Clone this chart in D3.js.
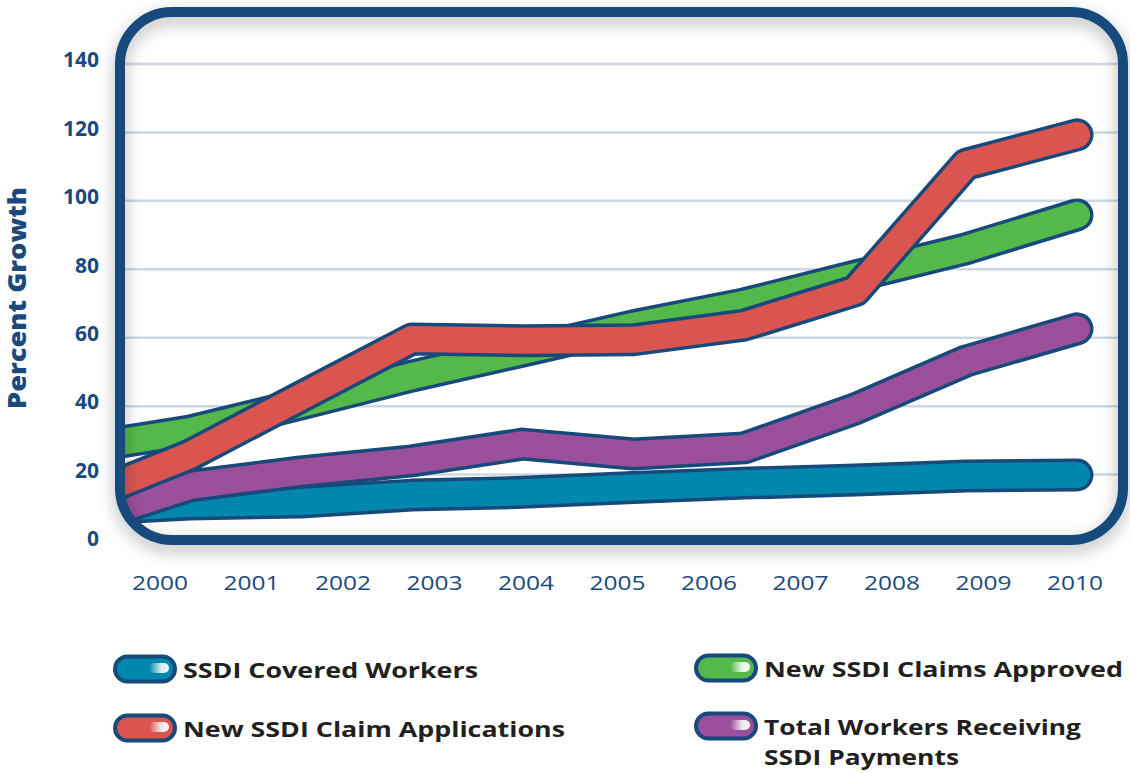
<!DOCTYPE html>
<html>
<head>
<meta charset="utf-8">
<script src="https://cdn.jsdelivr.net/npm/d3@7"></script>
<style>
  body { margin: 0; background: #ffffff; }
  svg { display: block; }
</style>
</head>
<body>
<script>
// growth since 2000, in percent
var years = [2000, 2001, 2002, 2003, 2004, 2005, 2006, 2007, 2008, 2009, 2010];
var yTicks = [0, 20, 40, 60, 80, 100, 120, 140];

var coveredWorkers   = [0, 9.7, 11.4, 12.0, 14.0, 14.8, 16.2, 17.5, 18.4, 19.6, 19.9];
var claimsReceiving  = [0, 6.2, 16.7, 20.8, 24.0, 28.9, 26.0, 27.8, 39.2, 53.2, 62.6];
var claimsApproved   = [0, 27.6, 32.7, 40.6, 48.8, 56.1, 63.5, 69.9, 78.0, 86.0, 95.9];
var claimApplications = [0, 12.7, 25.7, 42.7, 59.6, 59.1, 59.4, 63.7, 73.7, 110.7, 119.3];

var navy = "#17497b";

// draw order: bottom first
var series = [
    {name: "SSDI Covered Workers", values: coveredWorkers, color: "#0087ad"},
    {name: "Total Workers Receiving SSDI Payments", values: claimsReceiving, color: "#9a4f9b"},
    {name: "New SSDI Claims Approved", values: claimsApproved, color: "#55b84a"},
    {name: "New SSDI Claim Applications", values: claimApplications, color: "#da5550"}
];

var legendItems = [
    {lines: ["SSDI Covered Workers"], color: "#0087ad", x: 115, y: 669, widths: [295]},
    {lines: ["New SSDI Claim Applications"], color: "#da5550", x: 115, y: 728, widths: [382]},
    {lines: ["New SSDI Claims Approved"], color: "#55b84a", x: 696, y: 668, widths: [359]},
    {lines: ["Total Workers Receiving", "SSDI Payments"], color: "#9a4f9b", x: 696, y: 726, widths: [317, 195]}
];

var svg = d3.select("body").append("svg")
    .attr("width", 1130)
    .attr("height", 773);

var defs = svg.append("defs");

var frame = {x: 120, y: 12, w: 1003, h: 528, r: 52};

defs.append("clipPath").attr("id", "plot-clip")
    .append("rect")
    .attr("x", frame.x).attr("y", frame.y)
    .attr("width", frame.w).attr("height", frame.h)
    .attr("rx", frame.r);

var filter = defs.append("filter").attr("id", "frame-shadow")
    .attr("x", "-5%").attr("y", "-10%").attr("width", "110%").attr("height", "125%");
filter.append("feGaussianBlur").attr("in", "SourceAlpha").attr("stdDeviation", 8).attr("result", "blur");
filter.append("feOffset").attr("in", "blur").attr("dy", 6).attr("result", "off");
filter.append("feFlood").attr("flood-color", "#000000").attr("flood-opacity", 0.3);
filter.append("feComposite").attr("in2", "off").attr("operator", "in").attr("result", "shadow");
var merge = filter.append("feMerge");
merge.append("feMergeNode").attr("in", "shadow");
merge.append("feMergeNode").attr("in", "SourceGraphic");

var shine = defs.append("linearGradient").attr("id", "shine");
shine.append("stop").attr("offset", "0%").attr("stop-color", "#ffffff").attr("stop-opacity", 0);
shine.append("stop").attr("offset", "60%").attr("stop-color", "#ffffff").attr("stop-opacity", 0.85);
shine.append("stop").attr("offset", "100%").attr("stop-color", "#ffffff").attr("stop-opacity", 0.95);

// scales
var y = d3.scaleLinear().domain([0, 140]).range([543, 64]);
var xLabel = d3.scalePoint().domain(years).range([160, 1075]);
// the drawn lines run on their own spacing, wider than the labels
var xLine = d3.scaleLinear().domain([2002, 2010]).range([190, 1077]);

// gridlines
svg.append("g")
    .selectAll("line")
    .data(yTicks.filter(function(d) { return d > 0; }))
    .enter()
    .append("line")
    .attr("x1", frame.x).attr("x2", frame.x + frame.w)
    .attr("y1", function(d) { return y(d); })
    .attr("y2", function(d) { return y(d); })
    .attr("stroke", "#cbd8e4")
    .attr("stroke-width", 2.5);

// bands
var line = d3.line()
    .x(function(d, i) { return xLine(years[i]); })
    .y(function(d) { return y(d); });

var plot = svg.append("g").attr("clip-path", "url(#plot-clip)");

series.forEach(function(s) {
    plot.append("path")
        .attr("d", line(s.values))
        .attr("fill", "none")
        .attr("stroke", navy)
        .attr("stroke-width", 33)
        .attr("stroke-linejoin", "round")
        .attr("stroke-linecap", "round");
    plot.append("path")
        .attr("d", line(s.values))
        .attr("fill", "none")
        .attr("stroke", s.color)
        .attr("stroke-width", 26)
        .attr("stroke-linejoin", "round")
        .attr("stroke-linecap", "round");
});

// frame
svg.append("rect")
    .attr("x", frame.x).attr("y", frame.y)
    .attr("width", frame.w).attr("height", frame.h)
    .attr("rx", frame.r)
    .attr("fill", "none")
    .attr("stroke", navy)
    .attr("stroke-width", 10)
    .attr("filter", "url(#frame-shadow)");

// y tick labels
svg.append("g")
    .selectAll("text")
    .data(yTicks)
    .enter()
    .append("text")
    .attr("x", 99)
    .attr("y", function(d) { return y(d) - 4; })
    .attr("dy", "0.35em")
    .attr("text-anchor", "end")
    .attr("font-family", "'Open Sans', Lato, sans-serif")
    .attr("font-weight", 700)
    .attr("font-size", 21)
    .attr("fill", "#1a4a7c")
    .text(function(d) { return d; });

// x tick labels
svg.append("g")
    .selectAll("text")
    .data(years)
    .enter()
    .append("text")
    .attr("x", function(d) { return xLabel(d); })
    .attr("y", 590)
    .attr("text-anchor", "middle")
    .attr("font-family", "'Open Sans', sans-serif")
    .attr("font-size", 20)
    .attr("fill", "#1a4a7c")
    .attr("textLength", 56)
    .attr("lengthAdjust", "spacingAndGlyphs")
    .text(function(d) { return d; });

// y title
svg.append("text")
    .attr("transform", "translate(26,298) rotate(-90)")
    .attr("text-anchor", "middle")
    .attr("font-family", "'Open Sans', sans-serif")
    .attr("font-weight", 800)
    .attr("font-size", 24)
    .attr("fill", "#1a4a7c")
    .attr("textLength", 222)
    .attr("lengthAdjust", "spacingAndGlyphs")
    .text("Percent Growth");

// legend
var legend = svg.append("g");
legendItems.forEach(function(item) {
    var g = legend.append("g");
    g.append("rect")
        .attr("x", item.x).attr("y", item.y - 12.5)
        .attr("width", 60).attr("height", 25)
        .attr("rx", 12.5)
        .attr("fill", item.color)
        .attr("stroke", navy)
        .attr("stroke-width", 4);
    g.append("rect")
        .attr("x", item.x + 34).attr("y", item.y - 6)
        .attr("width", 20).attr("height", 10)
        .attr("rx", 5)
        .attr("fill", "url(#shine)");
    item.lines.forEach(function(t, i) {
        g.append("text")
            .attr("x", item.x + 68)
            .attr("y", item.y + 9 + i * 30)
            .attr("font-family", "'Open Sans', sans-serif")
            .attr("font-weight", 700)
            .attr("font-size", 22)
            .attr("fill", "#231f20")
            .attr("textLength", item.widths[i])
            .attr("lengthAdjust", "spacingAndGlyphs")
            .text(t);
    });
});
</script>
</body>
</html>
